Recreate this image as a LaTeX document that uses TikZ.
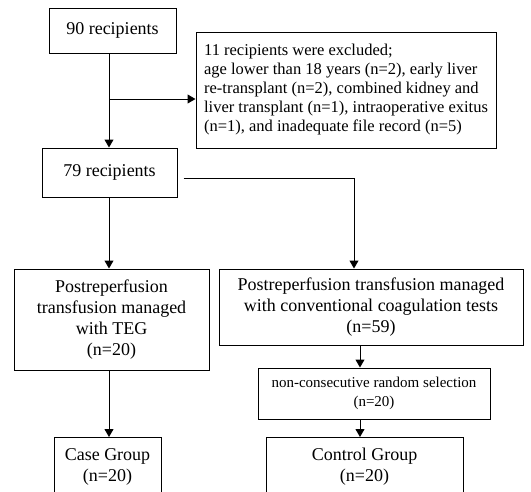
\documentclass[tikz,border=0pt]{standalone}
\usepackage{fontspec}
\setmainfont{Liberation Serif}
\usetikzlibrary{arrows.meta, positioning, calc}

\begin{document}
\begin{tikzpicture}[x=1pt, y=-1pt,
        flowbox/.style={rectangle, draw, line width=1pt, inner sep=0pt, align=center, font=\fontsize{18}{21}\selectfont},
        notebox/.style={rectangle, draw, line width=1pt, inner sep=0pt, inner xsep=5pt, align=left, font=\fontsize{16.5}{19}\selectfont},
        smallbox/.style={rectangle, draw, line width=1pt, inner sep=0pt, align=center, font=\fontsize{15}{19}\selectfont},
        arrowline/.style={-{Triangle[length=8pt, width=9pt]}, line width=1pt}
    ]
        \useasboundingbox (0,0) rectangle (531,491);
        \clip (0,0) rectangle (531,491);
        \node[flowbox, minimum width=127pt, minimum height=45pt] (start) at (112.5,30.5) {90 recipients};
        \node[notebox, minimum width=300pt, minimum height=116pt] (excl) at (346,90) {11 recipients were excluded;\\ age lower than 18 years (n=2), early liver\\ re-transplant (n=2), combined kidney and\\ liver transplant (n=1), intraoperative exitus\\ (n=1), and inadequate file record (n=5)};
        \node[flowbox, minimum width=135pt, minimum height=49pt] (r79) at (109.5,172.5) {79 recipients};
        \node[flowbox, minimum width=195pt, minimum height=101pt] (teg) at (111.5,319.5) {Postreperfusion\\ transfusion managed\\ with TEG\\ (n=20)};
        \node[flowbox, minimum width=304pt, minimum height=76pt] (conv) at (371,307) {Postreperfusion transfusion managed\\ with conventional coagulation tests\\ (n=59)};
        \node[smallbox, minimum width=232pt, minimum height=51pt] (rand) at (374,393.5) {non-consecutive random selection\\ (n=20)};
        \node[flowbox, minimum width=107pt, minimum height=58pt, anchor=north] (case) at (107.5,437) {Case Group\\ (n=20)};
        \node[flowbox, minimum width=197pt, minimum height=58pt, anchor=north] (ctrl) at (364.5,437) {Control Group\\ (n=20)};
        % helper points
        \coordinate (split) at (109,99);
        \coordinate (turn) at (354,178);
        \coordinate (colx) at (360,0);
        \draw[arrowline] (split |- start.south) -- (split |- r79.north);
        \draw[arrowline] (split) -- (split -| excl.west);
        \draw[arrowline] ([xshift=6pt]r79.east |- turn) -- (turn) -- (turn |- conv.north);
        \draw[arrowline] (split |- r79.south) -- (split |- teg.north);
        \draw[arrowline] (split |- teg.south) -- (split |- case.north);
        \draw[arrowline] (colx |- conv.south) -- (colx |- rand.north);
        \draw[arrowline] (colx |- rand.south) -- (colx |- ctrl.north);
    \end{tikzpicture}
\end{document}
